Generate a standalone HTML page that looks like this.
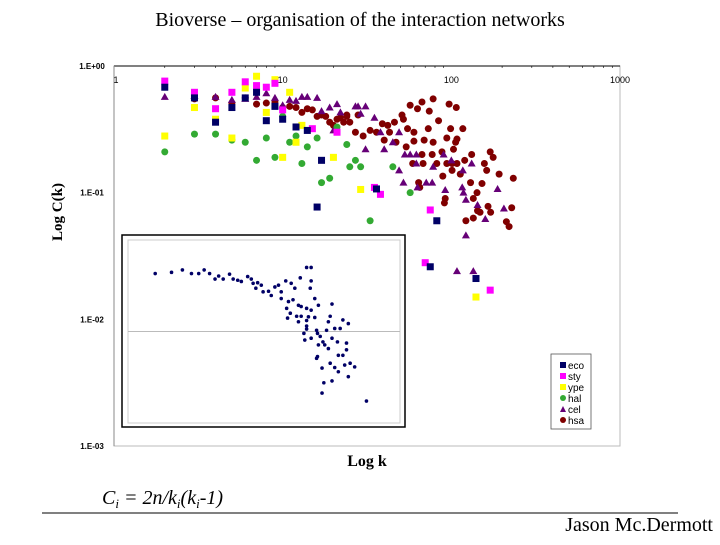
<!DOCTYPE html>
<html><head><meta charset="utf-8">
<style>
body{margin:0;background:#fff;width:720px;height:540px;overflow:hidden;font-family:"Liberation Serif",serif;}
</style></head>
<body>
<svg id="chart" width="720" height="540" viewBox="0 0 720 540" xmlns="http://www.w3.org/2000/svg">
<text x="360" y="26" text-anchor="middle" font-family="Liberation Serif, serif" font-size="20">Bioverse – organisation of the interaction networks</text>
<g id="plot"></g>
<text transform="translate(62,212) rotate(-90)" text-anchor="middle" font-family="Liberation Serif, serif" font-weight="bold" font-size="15">Log C(k)</text>
<text x="367" y="466" text-anchor="middle" font-family="Liberation Serif, serif" font-weight="bold" font-size="16">Log k</text>
<text x="102" y="504" font-family="Liberation Serif, serif" font-style="italic" font-size="20">C<tspan font-size="13" dy="4">i</tspan><tspan dy="-4"> = 2n/k</tspan><tspan font-size="13" dy="4">i</tspan><tspan dy="-4">(k</tspan><tspan font-size="13" dy="4">i</tspan><tspan dy="-4">-1)</tspan></text>
<line x1="42" y1="513" x2="678" y2="513" stroke="#000" stroke-width="1"/>
<text x="713" y="531" text-anchor="end" font-family="Liberation Serif, serif" font-size="20">Jason Mc.Dermott</text>
</svg>
<script>
// ---- main chart data (k = degree, C = clustering coefficient) ----
const xTicks = [1, 10, 100, 1000];
const xTickLabels = ["1", "10", "100", "1000"];
const yTicks = [1, 0.1, 0.01, 0.001];
const yTickLabels = ["1.E+00", "1.E-01", "1.E-02", "1.E-03"];
const seriesNames = ["eco", "sty", "ype", "hal", "cel", "hsa"];
const seriesColors = ["#000066", "#ff00ff", "#ffff00", "#33aa33", "#660077", "#800000"];
const seriesShapes = ["square", "square", "square", "circle", "triangle", "circle"];

const ecoK = [2,3,4,5,6,7,8,9,10,12,14,17,16,36,82,75,140];
const ecoC = [0.68,0.56,0.36,0.47,0.56,0.62,0.37,0.48,0.38,0.33,0.31,0.18,0.077,0.107,0.06,0.026,0.021];
const styK = [2,3,4,5,6,7,8,9,10,15,21,35,38,75,70,170];
const styC = [0.76,0.62,0.46,0.62,0.75,0.70,0.68,0.73,0.45,0.32,0.30,0.11,0.097,0.073,0.028,0.017];
const ypeK = [2,3,4,5,6,7,8,9,10,11,12,13,20,29,140];
const ypeC = [0.28,0.47,0.38,0.27,0.67,0.83,0.43,0.78,0.19,0.62,0.25,0.34,0.19,0.106,0.015];
const halK = [2,3,4,5,6,7,8,9,10,11,12,13,14,16,17,19,21,24,25,27,29,45,57,33];
const halC = [0.21,0.29,0.29,0.26,0.25,0.18,0.27,0.19,0.40,0.25,0.28,0.17,0.23,0.27,0.12,0.13,0.33,0.24,0.16,0.18,0.16,0.16,0.10,0.06];
const celK = [2,3,4,5,6,7,8,9,10,11,12,13,14,16,17,19,21,20,22,27,28,31,29,35,38,31,40,49,53,57,62,49,52,63,77,92,116,118,122,143,159,122,108,135,205,188,132,117,71,90,100,78,62,45];
const celC = [0.57,0.58,0.57,0.54,0.55,0.57,0.61,0.56,0.49,0.54,0.53,0.57,0.57,0.56,0.44,0.47,0.50,0.31,0.43,0.48,0.48,0.48,0.42,0.39,0.30,0.22,0.22,0.30,0.20,0.20,0.20,0.15,0.12,0.11,0.12,0.105,0.11,0.10,0.088,0.08,0.062,0.046,0.024,0.024,0.075,0.107,0.17,0.15,0.12,0.20,0.18,0.16,0.17,0.25];
const hsaK = [3,4,5,6,7,8,9,10,11,12,13,14,15,16,17,18,19,20,22,23,24,25,27,21,24,28,30,33,36,39,42,46,51,52,57,63,67,74,78,84,97,107,117,99,73,60,55,43,40,47,54,60,69,78,94,108,106,103,88,77,67,59,68,82,94,101,108,120,89,101,113,130,142,152,162,157,170,177,192,233,132,92,91,135,148,135,122,143,165,171,212,220,228,64,65];
const hsaC = [0.55,0.56,0.51,0.56,0.50,0.51,0.52,0.47,0.48,0.47,0.43,0.46,0.45,0.40,0.41,0.40,0.36,0.34,0.39,0.36,0.40,0.36,0.30,0.38,0.41,0.41,0.28,0.31,0.30,0.35,0.34,0.36,0.41,0.38,0.49,0.46,0.52,0.44,0.55,0.37,0.50,0.47,0.32,0.32,0.32,0.30,0.32,0.30,0.26,0.25,0.23,0.255,0.26,0.25,0.27,0.265,0.25,0.22,0.21,0.20,0.20,0.17,0.17,0.17,0.17,0.17,0.17,0.18,0.135,0.15,0.14,0.12,0.10,0.118,0.15,0.17,0.21,0.19,0.14,0.13,0.20,0.09,0.083,0.09,0.07,0.063,0.06,0.072,0.078,0.07,0.059,0.054,0.076,0.12,0.11];

const seriesK = [ecoK, styK, ypeK, halK, celK, hsaK];
const seriesC = [ecoC, styC, ypeC, halC, celC, hsaC];

// ---- inset data (log10 k, log10 C) ----
const insetLogK = [.30,.48,.60,.70,.78,.84,.90,.96,1.00,1.05,1.12,1.16,1.21,1.25,1.32,1.36,1.38,1.43,1.47,1.41,1.49,1.55,1.58,1.62,1.66,1.69,1.74,1.80,1.84,1.90,1.97,2.02,2.02,2.01,2.06,1.69,1.77,1.82,1.88,1.91,1.97,2.02,2.10,1.75,1.79,1.86,1.91,1.99,2.06,1.76,1.88,1.97,2.25,2.23,2.21,1.97,2.08,2.12,2.15,2.10,2.17,2.25,2.28,2.34,2.37,2.43,1.95,2.02,2.21,2.31,2.41,2.32,2.37,2.41,2.09,2.08,2.23,2.28,2.39,2.45,2.50,2.14,2.32,2.43,2.16,2.25,2.14,2.63,1.94,1.97,2.19,2.09];
const insetLogC = [-.55,-.53,-.49,-.55,-.55,-.49,-.55,-.64,-.59,-.64,-.56,-.64,-.66,-.68,-.60,-.64,-.71,-.70,-.74,-.79,-.85,-.84,-.91,-.77,-.74,-.96,-.67,-.71,-.79,-.62,-.45,-.45,-.67,-.79,-.96,-.85,-1.01,-.98,-1.07,-1.09,-1.12,-1.15,-1.07,-1.12,-1.20,-1.25,-1.25,-1.26,-1.27,-1.28,-1.34,-1.32,-1.05,-1.25,-1.34,-1.46,-1.48,-1.58,-1.67,-1.72,-1.72,-1.61,-1.45,-1.45,-1.31,-1.37,-1.64,-1.61,-1.78,-1.67,-1.69,-1.89,-1.89,-1.80,-1.91,-1.94,-2.02,-2.09,-2.05,-2.02,-2.08,-2.10,-2.16,-2.24,-2.34,-2.31,-2.51,-2.64,-1.53,-1.41,-1.48,-1.53];

const NS = "http://www.w3.org/2000/svg";
const plot = document.getElementById("plot");
const L = 114, R = 620, T = 66, B = 446;
function xScale(k){ return L + (Math.log10(k) / 3) * (R - L); }
function yScale(c){ return T + (-Math.log10(c) / 3) * (B - T); }
const IL = 128, IR = 400, IT = 240, IB = 423;
function ixScale(lk){ return IL + (lk / 3) * (IR - IL); }
function iyScale(lc){ return IT + (-lc / 3) * (IB - IT); }

function mk(tag, attrs){ const e = document.createElementNS(NS, tag); for (const a in attrs) e.setAttribute(a, attrs[a]); return e; }

// frame
const frame = mk("rect", {x:L, y:T, width:R-L, height:B-T, fill:"none", stroke:"#bbb", "stroke-width":1});


plot.appendChild(frame);
const topAxis = mk("line", {x1:L, y1:T, x2:R, y2:T, stroke:"#000", "stroke-width":1});


plot.appendChild(topAxis);
const leftAxis = mk("line", {x1:L, y1:T, x2:L, y2:B, stroke:"#888", "stroke-width":1});


plot.appendChild(leftAxis);

// x ticks (top)
xTicks.forEach((v, i) => {
  const x = xScale(v);
  const t = mk("text", {x: x + (i === 0 ? 2 : 0), y: 83, "text-anchor": "middle", "font-family": "Liberation Sans, sans-serif", "font-size": 9});
  t.textContent = xTickLabels[i];
  
  
  plot.appendChild(t);
  if (i < 3) {
    for (let m = 2; m <= 9; m++) {
      const mx = xScale(v * m);
      const tk = mk("line", {x1: mx, y1: T, x2: mx, y2: T + 2, stroke: "#000", "stroke-width": 0.6});
      
      
      plot.appendChild(tk);
    }
  }
});
// y ticks
yTicks.forEach((v, i) => {
  const t = mk("text", {x: 92, y: yScale(v) + 3, "text-anchor": "middle", "font-family": "Liberation Sans, sans-serif", "font-size": 8, "font-weight": "bold"});
  t.textContent = yTickLabels[i];
  
  
  plot.appendChild(t);
});

// markers
function marker(shape, x, y, color){
  if (shape === "square") return mk("rect", {x: x-3.5, y: y-3.5, width: 7, height: 7, fill: color});
  if (shape === "circle") return mk("circle", {cx: x, cy: y, r: 3.5, fill: color});
  return mk("polygon", {points: `${x},${y-4} ${x+4},${y+3} ${x-4},${y+3}`, fill: color});
}
const drawOrder = [5, 4, 3, 2, 1, 0];
drawOrder.forEach(s => {
  const g = mk("g", {});
  
  
  seriesK[s].forEach((k, j) => {
    const m = marker(seriesShapes[s], xScale(k), yScale(seriesC[s][j]), seriesColors[s]);
    
    
    g.appendChild(m);
  });
  plot.appendChild(g);
});

// inset
const inset = mk("g", {});


const ib = mk("rect", {x: 122, y: 235, width: 283, height: 192, fill: "#fff", stroke: "#000", "stroke-width": 1.5});


inset.appendChild(ib);
const ifr = mk("rect", {x: IL, y: IT, width: IR-IL, height: IB-IT, fill: "none", stroke: "#ccc", "stroke-width": 1});


inset.appendChild(ifr);
const igl = mk("line", {x1: IL, y1: iyScale(-1.5), x2: IR, y2: iyScale(-1.5), stroke: "#bbb", "stroke-width": 1});


inset.appendChild(igl);
insetLogK.forEach((lk, j) => {
  const d = mk("circle", {cx: ixScale(lk), cy: iyScale(insetLogC[j]), r: 1.8, fill: "#000066"});
  
  
  inset.appendChild(d);
});
plot.appendChild(inset);

// legend
const lg = mk("g", {});


const lb = mk("rect", {x: 551, y: 354, width: 40, height: 75, fill: "#fff", stroke: "#555", "stroke-width": 0.8});


lg.appendChild(lb);
seriesNames.forEach((n, i) => {
  const y = 365 + i * 11;
  const e = mk("g", {});
  
  
  let m;
  if (seriesShapes[i] === "square") m = mk("rect", {x: 560, y: y-3, width: 6, height: 6, fill: seriesColors[i]});
  else if (seriesShapes[i] === "circle") m = mk("circle", {cx: 563, cy: y, r: 3, fill: seriesColors[i]});
  else m = mk("polygon", {points: `563,${y-3} 566,${y+3} 560,${y+3}`, fill: seriesColors[i]});
  e.appendChild(m);
  const t = mk("text", {x: 568, y: y + 4, "font-family": "Liberation Sans, sans-serif", "font-size": 10});
  t.textContent = n;
  e.appendChild(t);
  lg.appendChild(e);
});
plot.appendChild(lg);
</script>
</body></html>
